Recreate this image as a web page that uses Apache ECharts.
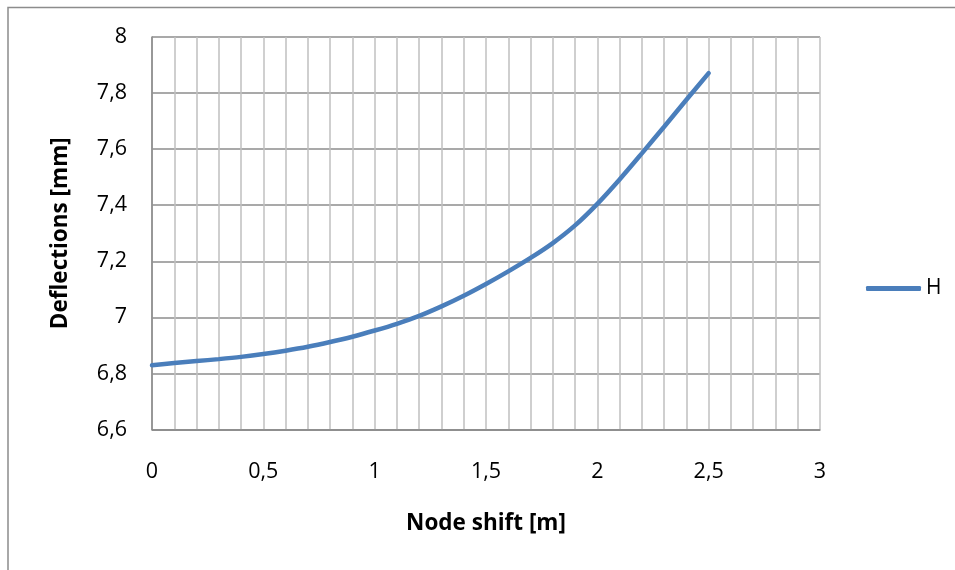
<!DOCTYPE html>
<html>
<head>
<meta charset="utf-8">
<script src="https://cdn.jsdelivr.net/npm/echarts@6/dist/echarts.min.js"></script>
<style>
html,body{margin:0;padding:0;background:#fff;overflow:hidden;}
#chart{width:955px;height:570px;}
</style>
</head>
<body>
<div id="chart"></div>
<script>
var nodeShift = [0, 0.1, 0.2, 0.3, 0.4, 0.5, 0.6, 0.7, 0.8, 0.9, 1.0, 1.1, 1.2, 1.3, 1.4, 1.5, 1.6, 1.7, 1.8, 1.9, 2.0, 2.1, 2.2, 2.3, 2.4, 2.5];
var deflH = [6.829, 6.837, 6.844, 6.851, 6.859, 6.869, 6.881, 6.895, 6.912, 6.931, 6.953, 6.977, 7.005, 7.039, 7.077, 7.119, 7.164, 7.212, 7.265, 7.328, 7.405, 7.492, 7.585, 7.680, 7.776, 7.871];
var seriesName = 'H';
var xTitle = 'Node shift [m]';
var yTitle = 'Deflections [mm]';

var points = nodeShift.map(function (x, i) { return [x, deflH[i]]; });
function comma(v) { return String(+v.toFixed(2)).replace('.', ','); }

var chart = echarts.init(document.getElementById('chart'), null, {renderer: 'canvas'});
var font = 'Open Sans';
chart.setOption({
  animation: false,
  backgroundColor: '#ffffff',
  graphic: [{
    type: 'rect',
    shape: {x: 8, y: 7.5, width: 1200, height: 1000},
    style: {fill: 'none', stroke: '#8c8c8c', lineWidth: 1.5},
    silent: true
  }],
  grid: {left: 152, right: 135, top: 37, bottom: 140.5, containLabel: false},
  legend: {
    data: [seriesName],
    left: 866,
    top: 278,
    padding: 0,
    icon: 'roundRect',
    itemWidth: 55,
    itemHeight: 5,
    itemGap: 10,
    textStyle: {fontFamily: font, fontSize: 21, color: '#000', padding: [0, 0, 0, 0]}
  },
  xAxis: {
    type: 'value',
    min: 0,
    max: 3,
    interval: 0.5,
    name: xTitle,
    nameLocation: 'middle',
    nameGap: 83,
    nameTextStyle: {fontFamily: font, fontSize: 22.5, fontWeight: 'bold', color: '#000'},
    axisLine: {show: true, lineStyle: {color: '#868686', width: 1.5}},
    axisTick: {show: false},
    minorTick: {show: false, splitNumber: 5},
    axisLabel: {margin: 31, fontFamily: font, fontSize: 21.5, color: '#000', formatter: comma},
    splitLine: {show: true, lineStyle: {color: '#c0c0c0', width: 1.5}},
    minorSplitLine: {show: true, lineStyle: {color: '#c0c0c0', width: 1.5}}
  },
  yAxis: {
    type: 'value',
    min: 6.6,
    max: 8,
    interval: 0.2,
    name: yTitle,
    nameLocation: 'middle',
    nameGap: 80,
    nameTextStyle: {fontFamily: font, fontSize: 22.5, fontWeight: 'bold', color: '#000'},
    axisLine: {show: true, lineStyle: {color: '#868686', width: 1.5}},
    axisTick: {show: false},
    axisLabel: {margin: 25, fontFamily: font, fontSize: 21.5, color: '#000', formatter: comma},
    splitLine: {show: true, lineStyle: {color: '#8c8c8c', width: 1.5}}
  },
  series: [{
    name: seriesName,
    type: 'line',
    data: points,
    smooth: 0.3,
    showSymbol: false,
    symbol: 'none',
    lineStyle: {color: '#4a7ebb', width: 4.5, cap: 'round'},
    itemStyle: {color: '#4a7ebb'}
  }]
});
</script>
</body>
</html>
